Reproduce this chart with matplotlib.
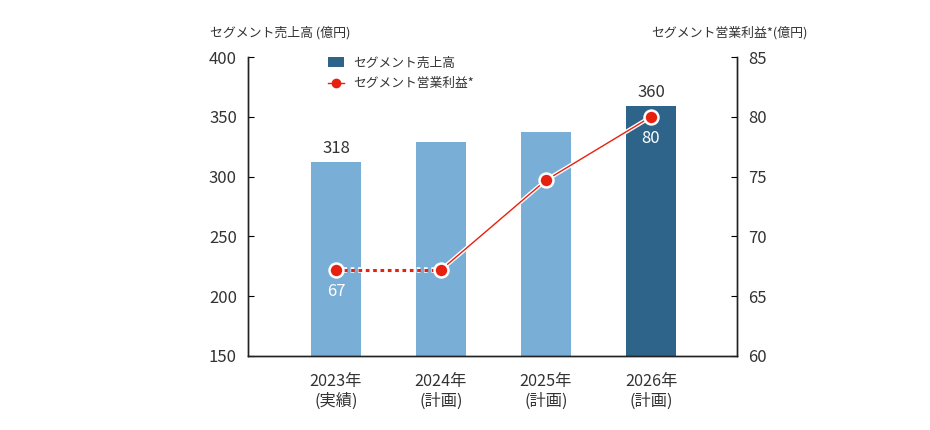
import matplotlib.pyplot as plt
import matplotlib.patheffects as pe
from matplotlib.lines import Line2D
from matplotlib.patches import Patch

plt.rcParams['font.family'] = ['Noto Sans CJK JP', 'DejaVu Sans']

# データ
years = ['2023年\n(実績)', '2024年\n(計画)', '2025年\n(計画)', '2026年\n(計画)']
sales = [312, 329, 337, 359]
sales_labels = ['318', '', '', '360']
profit = [67.2, 67.2, 74.7, 80.0]
profit_labels = ['67', '', '', '80']

light_blue = '#79AFD7'
dark_blue = '#2E6489'
red = '#E8200F'
text_color = '#333333'

fig = plt.figure(figsize=(9.3, 4.3), dpi=100)
ax = fig.add_axes([248 / 930, 74 / 430, 489 / 930, 299 / 430])
ax2 = ax.twinx()

x = list(range(len(years)))
colors = [light_blue] * 3 + [dark_blue]
ax.bar(x, sales, width=0.476, color=colors, zorder=2)

for i, v in enumerate(sales):
    if sales_labels[i]:
        ax.text(i, v + 4.5, sales_labels[i], ha='center', va='bottom',
                fontsize=12, color=text_color)

ax.set_xlim(-0.838, 3.819)
ax.set_ylim(150, 400)
ax.set_yticks([150, 200, 250, 300, 350, 400])
ax.set_xticks(x)
ax.set_xticklabels(years, fontsize=11.7, color=text_color, linespacing=1.2)
ax.tick_params(axis='x', length=0, pad=12)
ax.tick_params(axis='y', direction='in', length=4, labelsize=12,
               labelcolor=text_color, pad=8)

ax2.set_ylim(60, 85)
ax2.set_yticks([60, 65, 70, 75, 80, 85])
ax2.tick_params(axis='y', direction='in', length=4, labelsize=12,
                labelcolor=text_color, pad=8)

outline = [pe.Stroke(linewidth=3, foreground='white'), pe.Normal()]
# 実績→計画 は点線
ax2.plot(x[:2], profit[:2], color=red, linewidth=2.2, linestyle=(0, (1.2, 1.2)),
         path_effects=[pe.Stroke(linewidth=4, foreground='white'), pe.Normal()], zorder=3)
ax2.plot(x[1:], profit[1:], color=red, linewidth=1, path_effects=outline, zorder=3)
ax2.plot(x, profit, linestyle='none', marker='o', markersize=10,
         markerfacecolor=red, markeredgecolor='white', markeredgewidth=1.8, zorder=4)

for i, v in enumerate(profit):
    if profit_labels[i]:
        ax2.text(i, v - 1.1, profit_labels[i], ha='center', va='top',
                 fontsize=12, color='white')

for a in (ax, ax2):
    a.spines['top'].set_visible(False)
    for s in ('left', 'right', 'bottom'):
        a.spines[s].set_color('#222222')
        a.spines[s].set_linewidth(1)

fig.text(210 / 930, 1 - 33 / 430, 'セグメント売上高 (億円)', ha='left', va='center',
         fontsize=9.3, color=text_color)
fig.text(808 / 930, 1 - 33 / 430, 'セグメント営業利益*(億円)', ha='right', va='center',
         fontsize=9.3, color=text_color)

handles = [Patch(facecolor=dark_blue, edgecolor='none'),
           Line2D([0], [0], color=red, linewidth=1, marker='o', markersize=6,
                  markerfacecolor=red, markeredgecolor=red)]
fig.legend(handles, ['セグメント売上高', 'セグメント営業利益*'],
           loc='upper left', bbox_to_anchor=(316 / 930, 1 - 45 / 430),
           frameon=False, fontsize=9.2, handlelength=1.3, handleheight=0.8,
           labelspacing=0.6, handletextpad=0.7, labelcolor=text_color)

fig.savefig('out.png', dpi=100)
